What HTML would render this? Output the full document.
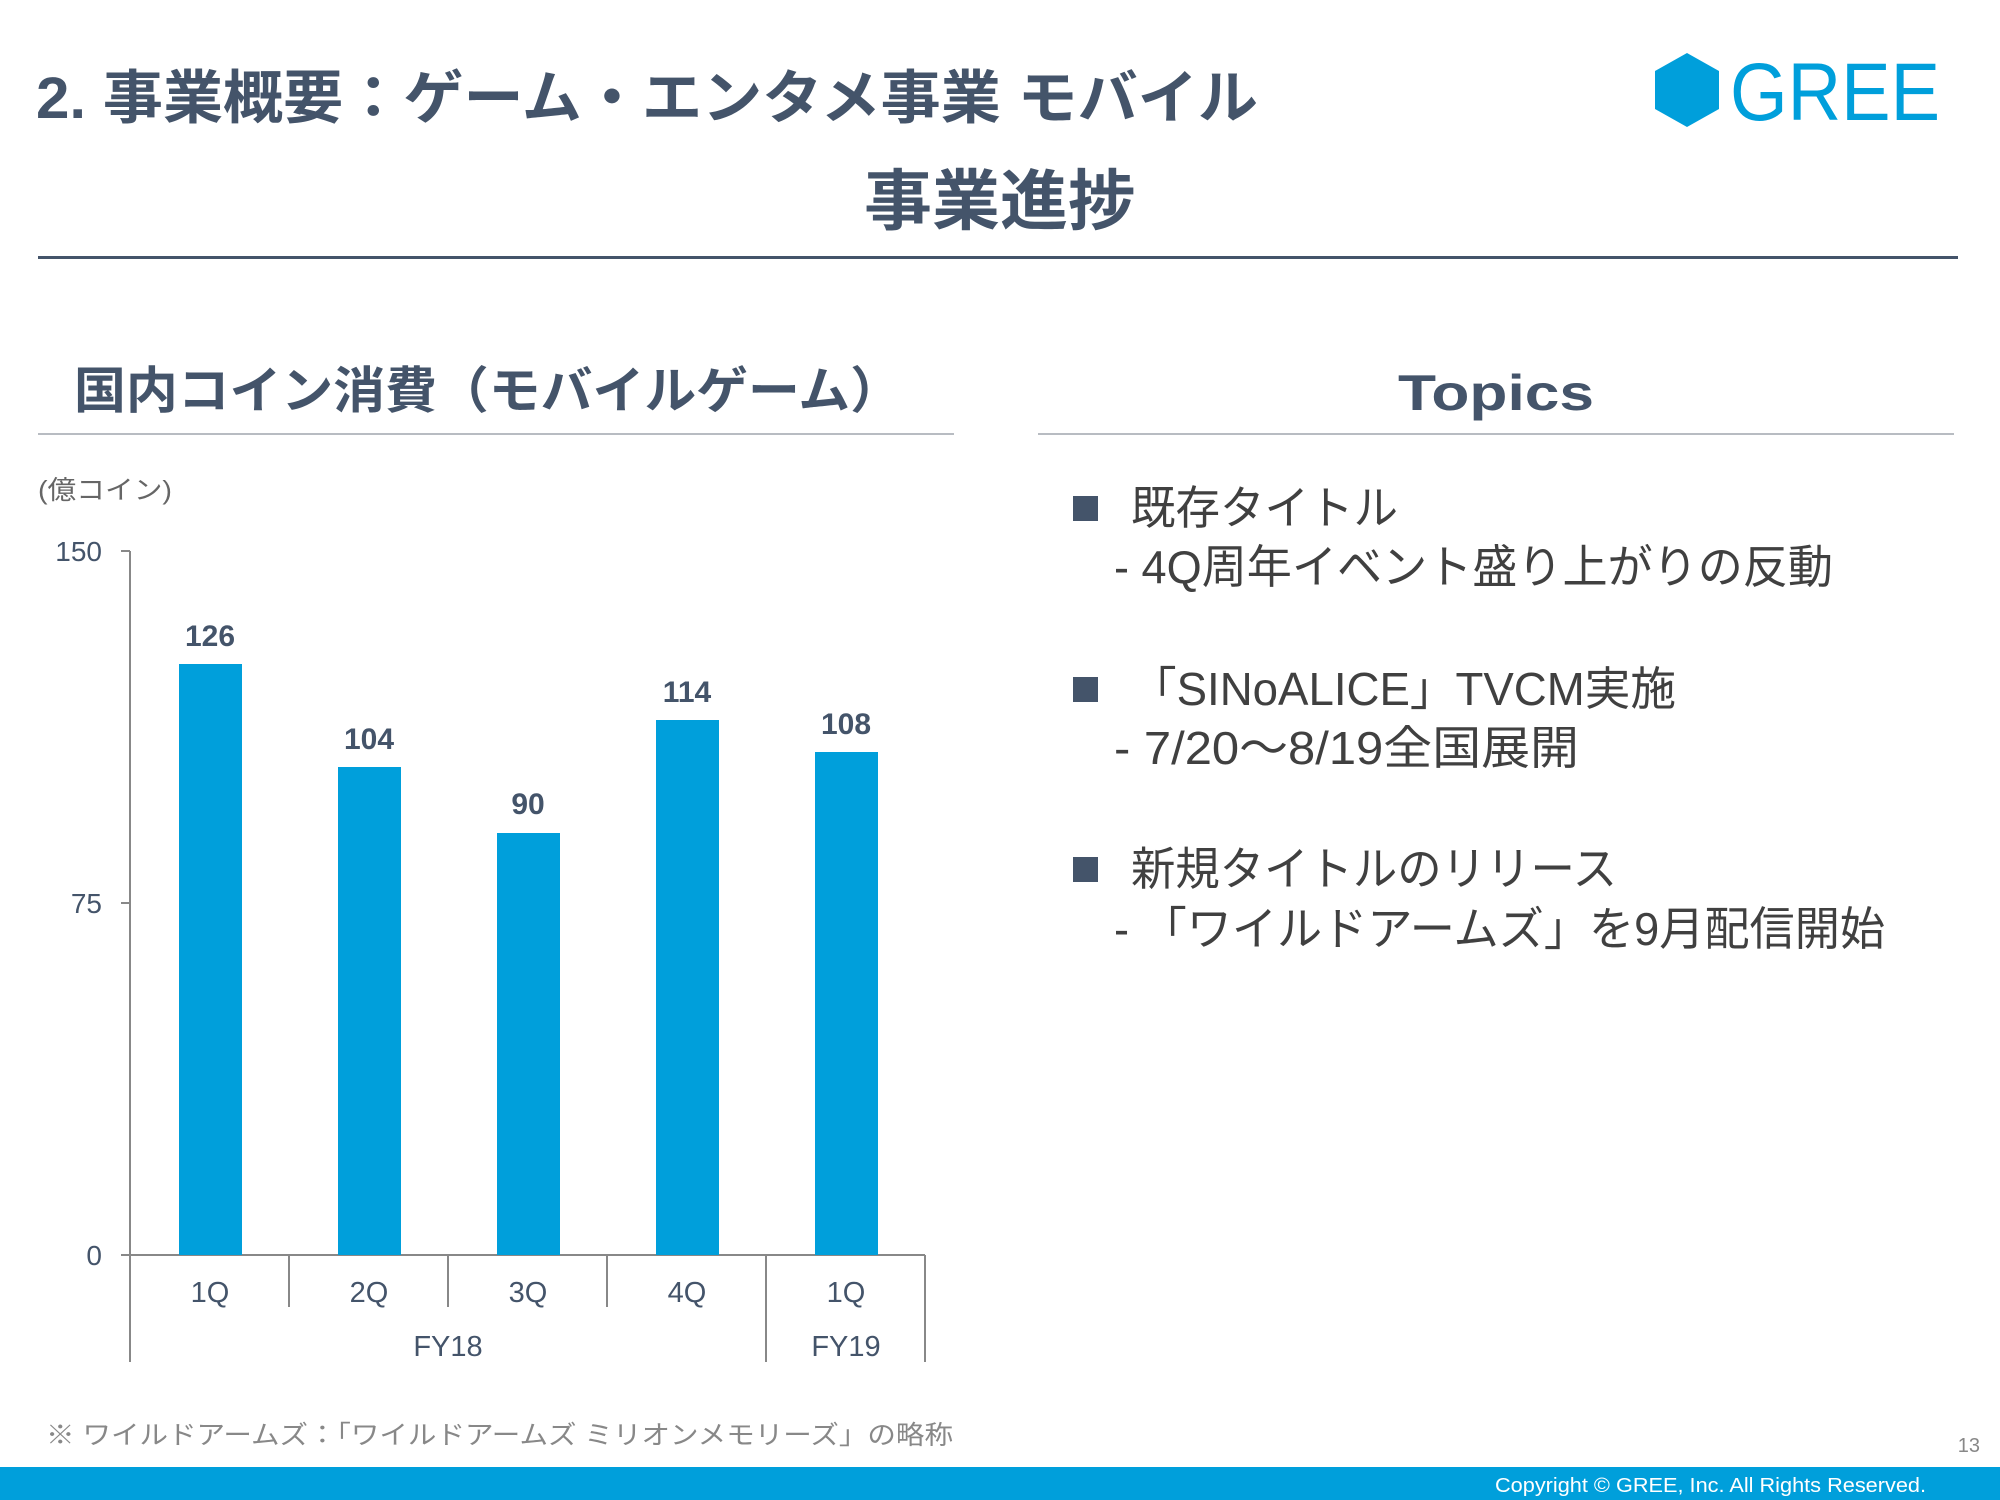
<!DOCTYPE html>
<html><head><meta charset="utf-8"><style>
html,body{margin:0;padding:0;background:#fff;}
svg{display:block;}
text{font-family:"Liberation Sans","Noto Sans CJK JP",sans-serif;}
</style></head><body>
<svg width="2000" height="1500" viewBox="0 0 2000 1500" xmlns="http://www.w3.org/2000/svg">
<rect width="2000" height="1500" fill="#fff"/>
<text x="36" y="118" font-size="58" font-weight="bold" fill="#44546a" textLength="1222" lengthAdjust="spacingAndGlyphs">2. 事業概要：ゲーム・エンタメ事業 モバイル</text>
<polygon points="1687,53 1719,71 1719,109 1687,127 1655,109 1655,71" fill="#009fdb"/>
<text x="1730" y="120" font-size="82" fill="#009fdb" textLength="210" lengthAdjust="spacingAndGlyphs">GREE</text>
<text x="1000" y="224" font-size="66" font-weight="bold" fill="#44546a" text-anchor="middle" textLength="272" lengthAdjust="spacingAndGlyphs">事業進捗</text>
<rect x="38" y="256" width="1920" height="3" fill="#44546a"/>
<text x="74" y="408" font-size="50" font-weight="bold" fill="#44546a" textLength="828" lengthAdjust="spacingAndGlyphs">国内コイン消費（モバイルゲーム）</text>
<rect x="38" y="433" width="916" height="2" fill="#b8bcc2"/>
<text x="1496" y="410" font-size="50" font-weight="bold" fill="#44546a" text-anchor="middle" textLength="196" lengthAdjust="spacingAndGlyphs">Topics</text>
<rect x="1038" y="433" width="916" height="2" fill="#b8bcc2"/>
<text x="38" y="499" font-size="26" fill="#666" textLength="134" lengthAdjust="spacingAndGlyphs">(億コイン)</text>
<g font-size="28" fill="#44546a" text-anchor="end">
<text x="102" y="561">150</text>
<text x="102" y="913">75</text>
<text x="102" y="1265">0</text>
</g>
<g stroke="#888" stroke-width="2" fill="none">
<line x1="130" y1="551" x2="130" y2="1362"/>
<line x1="121" y1="551" x2="130" y2="551"/>
<line x1="121" y1="903" x2="130" y2="903"/>
<line x1="121" y1="1255" x2="925" y2="1255"/>
<line x1="289" y1="1255" x2="289" y2="1307"/>
<line x1="448" y1="1255" x2="448" y2="1307"/>
<line x1="607" y1="1255" x2="607" y2="1307"/>
<line x1="766" y1="1255" x2="766" y2="1362"/>
<line x1="925" y1="1255" x2="925" y2="1362"/>
</g>
<g fill="#009fdb">
<rect x="179" y="664" width="63" height="591"/>
<rect x="338" y="767" width="63" height="488"/>
<rect x="497" y="833" width="63" height="422"/>
<rect x="656" y="720" width="63" height="535"/>
<rect x="815" y="752" width="63" height="503"/>
</g>
<g font-size="30" font-weight="bold" fill="#44546a" text-anchor="middle">
<text x="210" y="646">126</text>
<text x="369" y="749">104</text>
<text x="528" y="814">90</text>
<text x="687" y="702">114</text>
<text x="846" y="734">108</text>
</g>
<g font-size="29" fill="#44546a" text-anchor="middle">
<text x="210" y="1302">1Q</text>
<text x="369" y="1302">2Q</text>
<text x="528" y="1302">3Q</text>
<text x="687" y="1302">4Q</text>
<text x="846" y="1302">1Q</text>
<text x="448" y="1356">FY18</text>
<text x="846" y="1356">FY19</text>
</g>
<text x="46" y="1444" font-size="26" fill="#888" textLength="907" lengthAdjust="spacingAndGlyphs">※ ワイルドアームズ：「ワイルドアームズ ミリオンメモリーズ」の略称</text>
<text x="1980" y="1452" font-size="20" fill="#888" text-anchor="end">13</text>
<g fill="#44546a">
<rect x="1073" y="496" width="25" height="25"/>
<rect x="1073" y="677" width="25" height="25"/>
<rect x="1073" y="857" width="25" height="25"/>
</g>
<g font-size="46" fill="#404040">
<text x="1131" y="524" textLength="267" lengthAdjust="spacingAndGlyphs">既存タイトル</text>
<text x="1114" y="583" textLength="719" lengthAdjust="spacingAndGlyphs">- 4Q周年イベント盛り上がりの反動</text>
<text x="1131" y="705" textLength="545" lengthAdjust="spacingAndGlyphs">「SINoALICE」TVCM実施</text>
<text x="1114" y="764" textLength="465" lengthAdjust="spacingAndGlyphs">- 7/20～8/19全国展開</text>
<text x="1131" y="885" textLength="486" lengthAdjust="spacingAndGlyphs">新規タイトルのリリース</text>
<text x="1114" y="945" textLength="771" lengthAdjust="spacingAndGlyphs">- 「ワイルドアームズ」を9月配信開始</text>
</g>
<rect x="0" y="1467" width="2000" height="33" fill="#009fdb"/>
<text x="1926" y="1492" font-size="20" fill="#fff" text-anchor="end" textLength="431" lengthAdjust="spacingAndGlyphs">Copyright © GREE, Inc. All Rights Reserved.</text>
</svg>
</body></html>
